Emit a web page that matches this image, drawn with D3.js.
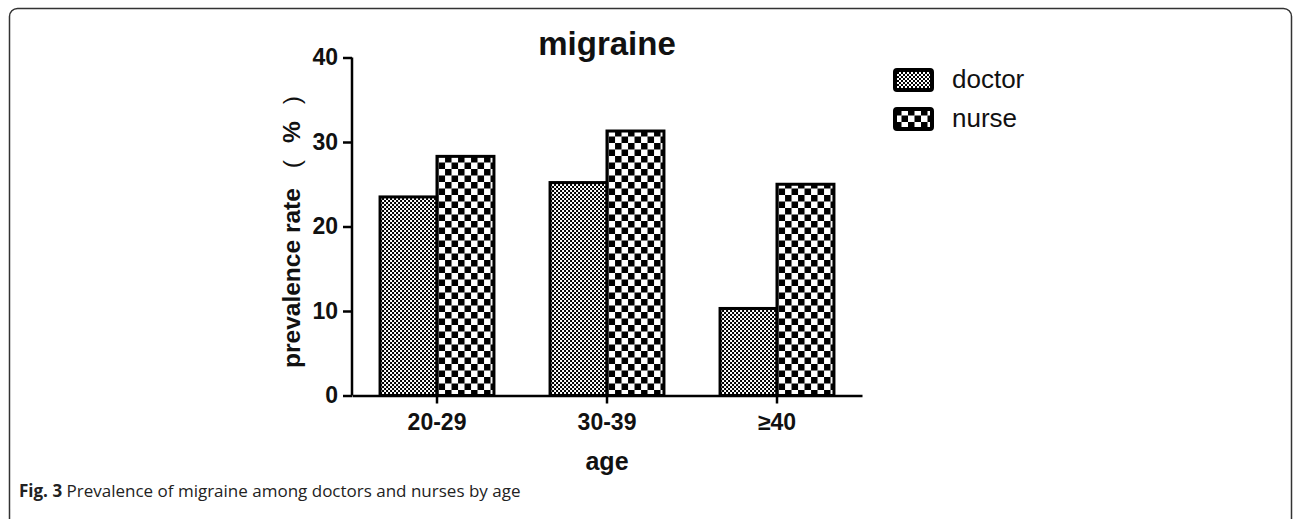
<!DOCTYPE html>
<html>
<head>
<meta charset="utf-8">
<script src="https://cdn.jsdelivr.net/npm/d3@7"></script>
<style>
  body { margin: 0; background: #fff; }
  svg { display: block; }
  .chart text { font-family: Arial, "Liberation Sans", sans-serif; fill: #111; }
</style>
</head>
<body>
<svg id="fig"></svg>
<script>
// Data
const AGE_GROUPS = ['20-29', '30-39', '≥40'];
const SERIES = ['doctor', 'nurse'];
const DOCTOR = [23.5, 25.2, 10.3];
const NURSE = [28.3, 31.3, 25.0];
const Y_TICKS = [0, 10, 20, 30, 40];

// Page settings
const WIDTH = 1295;
const HEIGHT = 519;

const svg = d3.select('svg#fig').attr('width', WIDTH).attr('height', HEIGHT);

// Patterns: fine checker for doctors, coarse checker for nurses
const defs = svg.append('defs');
function checker(id, cell) {
    const p = defs.append('pattern')
        .attr('id', id)
        .attr('patternUnits', 'userSpaceOnUse')
        .attr('width', cell * 2).attr('height', cell * 2);
    p.append('rect').attr('width', cell * 2).attr('height', cell * 2).attr('fill', '#fff');
    p.append('rect').attr('width', cell).attr('height', cell).attr('fill', '#000');
    p.append('rect').attr('x', cell).attr('y', cell).attr('width', cell).attr('height', cell).attr('fill', '#000');
}
checker('pat-doctor', 2);
checker('pat-nurse', 6.5);
const FILLS = {doctor: 'url(#pat-doctor)', nurse: 'url(#pat-nurse)'};

// Figure frame
svg.append('rect')
    .attr('x', 9.5).attr('y', 8.5)
    .attr('width', 1282).attr('height', 520)
    .attr('rx', 8)
    .attr('fill', 'none')
    .attr('stroke', '#333')
    .attr('stroke-width', 1.5);

const chart = svg.append('g').attr('class', 'chart');

// Scales
const x0 = d3.scaleBand().domain(AGE_GROUPS).range([352, 862]).paddingInner(0.33).paddingOuter(0.165);
const x1 = d3.scaleBand().domain(SERIES).range([0, x0.bandwidth()]);
const y = d3.scaleLinear().domain([0, 40]).range([395.5, 57.5]);

// Bars
const rows = AGE_GROUPS.map((g, i) => ({group: g, doctor: DOCTOR[i], nurse: NURSE[i]}));
chart.append('g').selectAll('g')
    .data(rows)
    .join('g')
    .attr('transform', d => `translate(${x0(d.group)},0)`)
    .selectAll('rect')
    .data(d => SERIES.map(s => ({key: s, value: d[s]})))
    .join('rect')
    .attr('x', d => x1(d.key))
    .attr('y', d => y(d.value))
    .attr('width', x1.bandwidth())
    .attr('height', d => y(0) - y(d.value))
    .attr('fill', d => FILLS[d.key])
    .attr('stroke', '#000')
    .attr('stroke-width', 3);

// Axes
const yAxis = chart.append('g')
    .attr('transform', 'translate(352,0)')
    .call(d3.axisLeft(y).tickValues(Y_TICKS).tickSize(9).tickPadding(5));
const xAxis = chart.append('g')
    .attr('transform', `translate(0,${y(0)})`)
    .call(d3.axisBottom(x0).tickSize(8).tickPadding(10).tickSizeOuter(0));

[yAxis, xAxis].forEach(a => {
    a.select('.domain').attr('stroke', '#000').attr('stroke-width', 2.5);
    a.selectAll('.tick line').attr('stroke', '#000').attr('stroke-width', 2.5);
    a.selectAll('.tick text')
        .attr('font-family', 'Arial, "Liberation Sans", sans-serif')
        .attr('font-size', 23).attr('font-weight', 'bold').attr('fill', '#111');
});
// y domain starts at the x axis, no outer ticks
yAxis.select('.domain').attr('d', `M0,${y(40)}V${y(0)}`);

// Title and axis titles
chart.append('text')
    .attr('x', 607).attr('y', 55)
    .attr('text-anchor', 'middle')
    .attr('font-size', 33).attr('font-weight', 'bold')
    .text('migraine');

chart.append('text')
    .attr('x', 607).attr('y', 470)
    .attr('text-anchor', 'middle')
    .attr('font-size', 25).attr('font-weight', 'bold')
    .text('age');

const yTitle = chart.append('text')
    .attr('transform', 'translate(300,232) rotate(-90)')
    .attr('text-anchor', 'middle')
    .attr('font-size', 24.5).attr('font-weight', 'bold');
yTitle.append('tspan').text('prevalence rate');
yTitle.append('tspan').attr('dx', 20).attr('font-weight', 'normal').text('(');
yTitle.append('tspan').attr('dx', 17).text('%');
yTitle.append('tspan').attr('dx', 17).attr('font-weight', 'normal').text(')');

// Legend
const legend = chart.append('g').selectAll('g')
    .data(SERIES)
    .join('g')
    .attr('transform', (d, i) => `translate(895,${70 + i * 39})`);
legend.append('rect')
    .attr('width', 37).attr('height', 20)
    .attr('rx', 2)
    .attr('fill', d => FILLS[d])
    .attr('stroke', '#000')
    .attr('stroke-width', 4);
legend.append('text')
    .attr('x', 57).attr('y', 18)
    .attr('font-size', 26)
    .attr('fill', '#222')
    .text(d => d);

// Caption
const caption = svg.append('text')
    .attr('x', 19).attr('y', 497)
    .attr('font-family', '"Open Sans", "Noto Sans", sans-serif')
    .attr('font-size', 17)
    .attr('fill', '#222');
caption.append('tspan').attr('font-weight', 'bold').text('Fig. 3');
caption.append('tspan').text(' Prevalence of migraine among doctors and nurses by age');
</script>
</body>
</html>
